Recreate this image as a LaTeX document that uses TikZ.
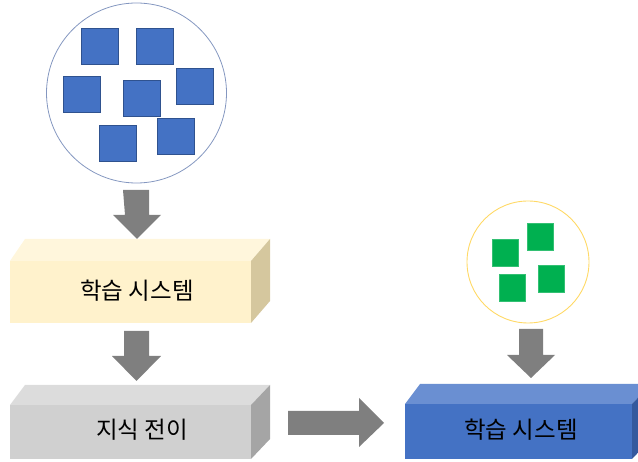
\documentclass[tikz,border=0pt]{standalone}
\usepackage{fontspec}
\setmainfont{Noto Sans CJK KR}
\usetikzlibrary{calc}
\definecolor{sqblue}{HTML}{4472C4}
\definecolor{sqblueedge}{HTML}{2F528F}
\definecolor{circblue}{HTML}{8497C0}
\definecolor{sqgreen}{HTML}{00B050}
\definecolor{circgold}{HTML}{FFD966}
\definecolor{arrgray}{HTML}{7F7F7F}
\definecolor{yfront}{HTML}{FFF2CC}
\definecolor{ytop}{HTML}{FFF6DC}
\definecolor{yside}{HTML}{D5C79E}
\definecolor{gfront}{HTML}{D0D0D0}
\definecolor{gtop}{HTML}{DCDCDC}
\definecolor{gside}{HTML}{A5A5A5}
\definecolor{bfront}{HTML}{4472C4}
\definecolor{btop}{HTML}{6A8FD2}
\definecolor{bside}{HTML}{34599E}
\tikzset{
  bluesq/.style={draw=sqblueedge, line width=0.5pt, fill=sqblue, minimum width=37pt, minimum height=36pt, inner sep=0pt},
  greensq/.style={draw=sqgreen!80!white, line width=0.4pt, fill=sqgreen, minimum width=26pt, minimum height=27pt, inner sep=0pt},
  frontface/.style={inner sep=0pt, outer sep=0pt},
  boxtext/.style={font=\fontsize{23.5}{26}\selectfont, text=black, inner sep=0pt},
  arr/.style={fill=arrgray, draw=none}
}
\begin{document}
\begin{tikzpicture}[x=1pt,y=-1pt]
\useasboundingbox (0,0) rectangle (638,462);
\clip (0,0) rectangle (638,462);
% big circle with blue squares
\node[circle, draw=circblue, line width=0.8pt, minimum size=180pt, inner sep=0pt] (bigc) at (136.5,93) {};
\node[bluesq] (s1) at (99.5,46) {};
\node[bluesq] (s2) at (155,46) {};
\node[bluesq] (s3) at (81.5,94) {};
\node[bluesq] (s4) at (141.5,98) {};
\node[bluesq] (s5) at (194.5,86) {};
\node[bluesq] (s6) at (118,143) {};
\node[bluesq] (s7) at (176,136.5) {};
% small circle with green squares
\node[circle, draw=circgold, line width=0.9pt, minimum size=122pt, inner sep=0pt] (smallc) at (528,262) {};
\node[greensq] (g1) at (505,252.5) {};
\node[greensq] (g2) at (540.5,237) {};
\node[greensq] (g3) at (512,287.5) {};
\node[greensq] (g4) at (551,279) {};
% yellow box
\node[frontface, fill=yfront, minimum width=241pt, minimum height=62pt] (ybox) at (130.5,292) {};
\fill[ytop] (ybox.north west) -- (ybox.north east) -- ++(19,-22) -- ($(ybox.north west)+(15,-22)$) -- cycle;
\fill[yside] (ybox.north east) -- ++(19,-22) -- ($(ybox.south east)+(19,-22)$) -- (ybox.south east) -- cycle;
\node[boxtext] (ytext) at (137,291) {학습 시스템};
% grey box
\node[frontface, fill=gfront, minimum width=241pt, minimum height=54pt] (gbox) at (130.5,432) {};
\fill[gtop] (gbox.north west) -- (gbox.north east) -- ++(19,-20) -- ($(gbox.north west)+(15,-20)$) -- cycle;
\fill[gside] (gbox.north east) -- ++(19,-20) -- ($(gbox.south east)+(19,-20)$) -- (gbox.south east) -- cycle;
\node[boxtext] (gtext) at (142,430) {지식 전이};
% blue box
\node[frontface, fill=bfront, minimum width=227pt, minimum height=55pt] (bbox) at (518.5,431.5) {};
\fill[btop] (bbox.north west) -- (bbox.north east) -- ++(19,-20) -- ($(bbox.north west)+(15,-20)$) -- cycle;
\fill[bside] (bbox.north east) -- ++(19,-20) -- ($(bbox.south east)+(19,-20)$) -- (bbox.south east) -- cycle;
\node[boxtext] (btext) at (521,430) {학습 시스템};
% arrows
\coordinate (a1) at (136,190);
\fill[arr] (a1) ++(-13,0) -- ++(26,0) -- ++(0,25) -- ++(12,0) -- ++(-24,24) -- ++(-24,-24) -- ++(12,0) -- cycle;
\coordinate (a2) at (136.5,331);
\fill[arr] (a2) ++(-12.5,0) -- ++(25,0) -- ++(0,25) -- ++(12,0) -- ++(-24.5,25) -- ++(-24.5,-25) -- ++(12,0) -- cycle;
\coordinate (a4) at (531,329);
\fill[arr] (a4) ++(-12,0) -- ++(24,0) -- ++(0,26) -- ++(12,0) -- ++(-24,23) -- ++(-24,-23) -- ++(12,0) -- cycle;
\coordinate (a3) at (288,423);
\fill[arr] (a3) ++(0,-12) -- ++(71,0) -- ++(0,-13) -- ++(25,25) -- ++(-25,24) -- ++(0,-12) -- ++(-71,0) -- cycle;
\end{tikzpicture}
\end{document}
